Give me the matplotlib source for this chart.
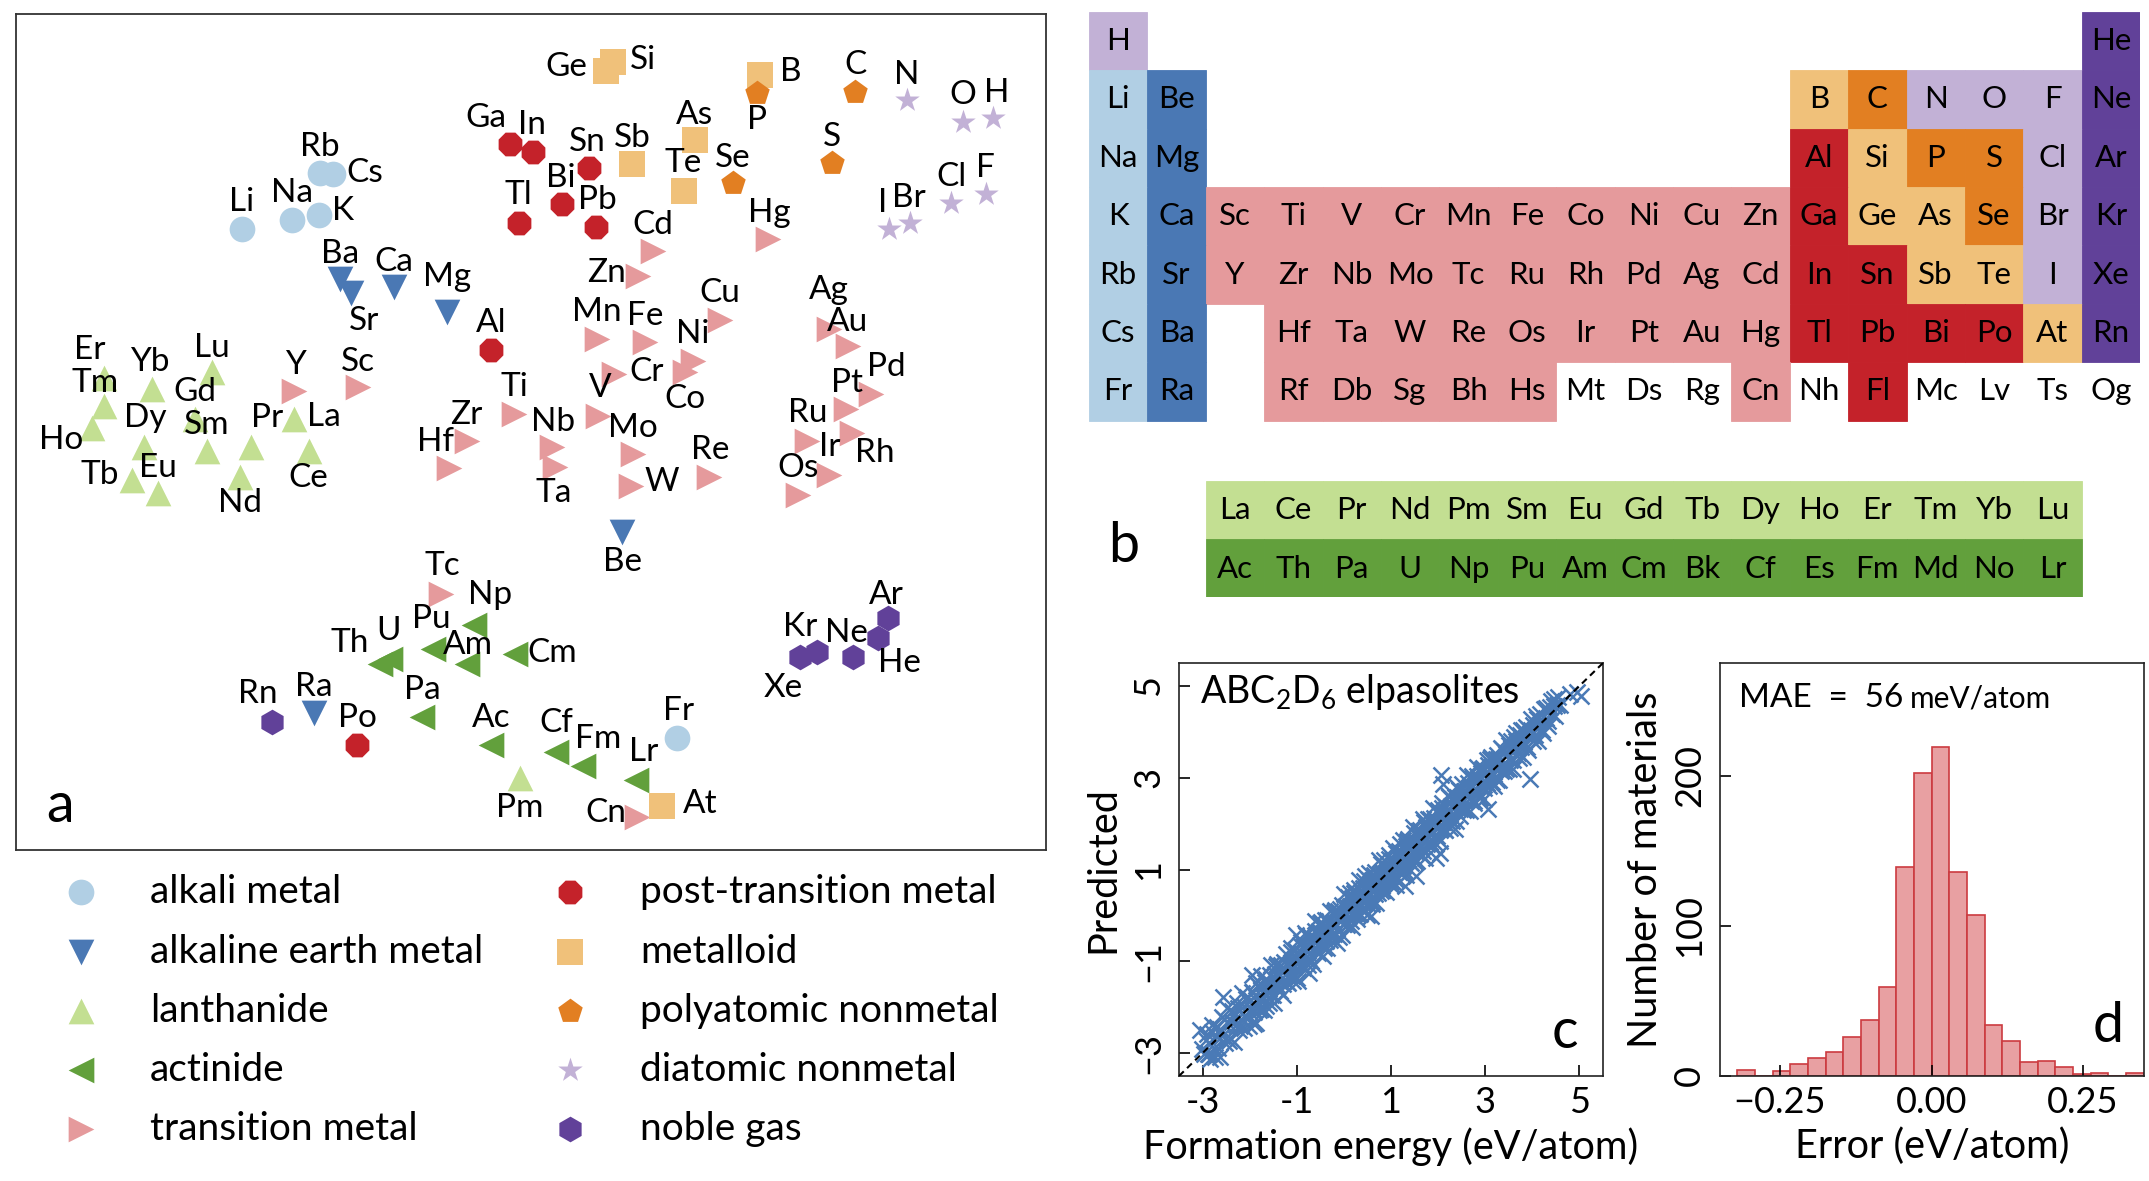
import numpy as np
import matplotlib
matplotlib.use("Agg")
import matplotlib.pyplot as plt
from matplotlib.patches import Rectangle

plt.rcParams["font.family"] = ["Lato", "DejaVu Sans"]
plt.rcParams["mathtext.fontset"] = "custom"
plt.rcParams["mathtext.rm"] = "Lato"
plt.rcParams["mathtext.it"] = "Lato:italic"
plt.rcParams["mathtext.bf"] = "Lato:bold"

W, H = 2149, 1181

# ---- element classes ----
category_members = {
    "alkali metal": "Li Na K Rb Cs Fr",
    "alkaline earth metal": "Be Mg Ca Sr Ba Ra",
    "lanthanide": "La Ce Pr Nd Pm Sm Eu Gd Tb Dy Ho Er Tm Yb Lu",
    "actinide": "Ac Th Pa U Np Pu Am Cm Bk Cf Es Fm Md No Lr",
    "transition metal": "Sc Ti V Cr Mn Fe Co Ni Cu Zn Y Zr Nb Mo Tc Ru Rh Pd Ag Cd "
                        "Hf Ta W Re Os Ir Pt Au Hg Rf Db Sg Bh Hs Cn",
    "post-transition metal": "Al Ga In Sn Tl Pb Bi Po Fl",
    "metalloid": "B Si Ge As Sb Te At",
    "polyatomic nonmetal": "C P S Se",
    "diatomic nonmetal": "H N O F Cl Br I",
    "noble gas": "He Ne Ar Kr Xe Rn",
}
legend_left = ["alkali metal", "alkaline earth metal", "lanthanide", "actinide", "transition metal"]
legend_right = ["post-transition metal", "metalloid", "polyatomic nonmetal", "diatomic nonmetal", "noble gas"]

COLORS = {
    "alkali metal": "#b1cfe4",
    "alkaline earth metal": "#4a78b4",
    "lanthanide": "#c3df92",
    "actinide": "#62a03c",
    "transition metal": "#e59a9c",
    "post-transition metal": "#c4222a",
    "metalloid": "#f0c17a",
    "polyatomic nonmetal": "#e27f22",
    "diatomic nonmetal": "#c2b1d6",
    "noble gas": "#614199",
}
MARKERS = {
    "alkali metal": "o", "alkaline earth metal": "v", "lanthanide": "^",
    "actinide": "<", "transition metal": ">", "post-transition metal": "8",
    "metalloid": "s", "polyatomic nonmetal": "p", "diatomic nonmetal": "*",
    "noble gas": "h",
}
category_of = {}
for cat, members in category_members.items():
    for sym in members.split():
        category_of[sym] = cat

# ---- periodic table layout (period rows, '.' = empty) ----
table_rows = [
    "H . . . . . . . . . . . . . . . . He",
    "Li Be . . . . . . . . . . B C N O F Ne",
    "Na Mg . . . . . . . . . . Al Si P S Cl Ar",
    "K Ca Sc Ti V Cr Mn Fe Co Ni Cu Zn Ga Ge As Se Br Kr",
    "Rb Sr Y Zr Nb Mo Tc Ru Rh Pd Ag Cd In Sn Sb Te I Xe",
    "Cs Ba . Hf Ta W Re Os Ir Pt Au Hg Tl Pb Bi Po At Rn",
    "Fr Ra . Rf Db Sg Bh Hs Mt Ds Rg Cn Nh Fl Mc Lv Ts Og",
]
f_rows = [
    "La Ce Pr Nd Pm Sm Eu Gd Tb Dy Ho Er Tm Yb Lu",
    "Ac Th Pa U Np Pu Am Cm Bk Cf Es Fm Md No Lr",
]

# ---- panel a: 2D embedding of elements ----
emb_symbols = ["Li", "Na", "K", "Rb", "Cs", "Fr",
               "Be", "Mg", "Ca", "Sr", "Ba", "Ra",
               "La", "Ce", "Pr", "Nd", "Pm", "Sm", "Eu", "Gd", "Tb", "Dy", "Ho", "Er", "Tm", "Yb", "Lu",
               "Ac", "Th", "Pa", "U", "Np", "Pu", "Am", "Cm", "Cf", "Fm", "Lr",
               "Sc", "Ti", "V", "Cr", "Mn", "Fe", "Co", "Ni", "Cu", "Zn",
               "Y", "Zr", "Nb", "Mo", "Tc", "Ru", "Rh", "Pd", "Ag", "Cd",
               "Hf", "Ta", "W", "Re", "Os", "Ir", "Pt", "Au", "Hg", "Cn",
               "Al", "Ga", "In", "Sn", "Tl", "Pb", "Bi", "Po",
               "B", "Si", "Ge", "As", "Sb", "Te", "At",
               "C", "P", "S", "Se",
               "H", "N", "O", "F", "Cl", "Br", "I",
               "He", "Ne", "Ar", "Kr", "Xe", "Rn"]
emb_x = [242, 292, 318.5, 320, 333, 677.4,
         622, 447.3, 394.3, 351, 340, 313.5,
         294.3, 309, 250.7, 240, 519.5, 206.7, 158.3, 195, 132.3, 144.3, 92.3, 104.3, 104.3, 151.7, 212.3,
         491.4, 380.2, 422.3, 389.6, 474.2, 432.8, 467.2, 514.9, 556.3, 582.6, 636.3,
         357.5, 514, 598.3, 614, 596.5, 644.5, 685, 692.5, 720, 638.2,
         294.3, 466.7, 552.3, 633.3, 440.5, 806.7, 851.7, 870.7, 828.5, 652.6,
         449, 555, 630.8, 709.3, 797.7, 829.3, 846, 847.5, 768.2, 637,
         491, 510.2, 532.8, 588.7, 518.6, 596, 561.5, 357,
         759.7, 612.8, 605.5, 695.4, 632.3, 684.3, 661.6,
         855.4, 756.7, 831.7, 733,
         993.2, 907, 963.3, 985.5, 951, 909.8, 889,
         878.3, 853.3, 887.7, 816.7, 800, 272.1]
emb_y = [229, 220, 215, 173, 174, 737.5,
         532, 311.7, 286.7, 293.3, 279.3, 713,
         419, 450.7, 446.7, 477.3, 778, 450.7, 493.3, 419, 480, 446.7, 427.7, 378.3, 406, 389.3, 371.7,
         744.6, 663.9, 717.2, 658.6, 625.3, 649.1, 663.9, 654, 751.6, 765.6, 779.6,
         387.3, 414, 415.7, 374, 339, 341.7, 371.7, 360.5, 319.5, 276,
         390.7, 441, 447.3, 453.7, 593.7, 440.7, 432.7, 394, 328.5, 250.5,
         468.3, 466.7, 486, 477.3, 495, 475, 409.3, 346.2, 239, 816.5,
         350, 144, 151.7, 168.3, 222.7, 226.7, 204.3, 745.3,
         75, 61.7, 70.7, 140, 164, 190.7, 806,
         91.7, 92.7, 163.3, 183.3,
         118.3, 100, 121.7, 194, 202.7, 222.7, 229.3,
         638.3, 656.7, 618.3, 651.7, 657.3, 721.8]

# label placement (layout, same units as the embedding axes)
label_xy = {
    "Li": (242, 202), "Na": (292, 193), "K": (343, 211), "Rb": (320, 147), "Cs": (364.5, 172.7),
    "Fr": (678.4, 711),
    "Be": (622.7, 562), "Mg": (447.3, 277), "Ca": (394.3, 261.7), "Sr": (364, 320.5),
    "Ba": (340, 254), "Ra": (313.5, 686.7),
    "La": (324.3, 416.7), "Ce": (308.3, 478.3), "Pr": (266.7, 418.3), "Nd": (240, 503.3),
    "Pm": (519.5, 807.7), "Sm": (206.7, 425), "Eu": (158.3, 468.3), "Gd": (195, 391.7),
    "Tb": (100, 475), "Dy": (145, 418.3), "Ho": (61, 440), "Er": (90, 350), "Tm": (95, 383),
    "Yb": (150, 361.7), "Lu": (212.3, 348.3),
    "Ac": (491.4, 718.2), "Th": (349.3, 642.8), "Pa": (422.3, 690.2), "U": (388.6, 630.5),
    "Np": (489.6, 595.4), "Pu": (431.8, 619.3), "Am": (467.9, 644.6), "Cm": (552.1, 653.3),
    "Cf": (556.3, 723.5), "Fm": (598.4, 739.3), "Lr": (644, 751.6),
    "Sc": (358.3, 361.7), "Ti": (514, 386.7), "V": (600, 388.3), "Cr": (646.7, 371.7),
    "Mn": (597, 311.7), "Fe": (645, 316), "Co": (685, 399.3), "Ni": (693, 334),
    "Cu": (720, 293.3), "Zn": (606.7, 273.3),
    "Y": (295, 365), "Zr": (466.7, 415), "Nb": (552.7, 421.7), "Mo": (633.3, 428.3),
    "Tc": (442, 565.6), "Ru": (807.3, 413.3), "Rh": (875, 453.3), "Pd": (886.7, 366.7),
    "Ag": (828.5, 290), "Cd": (652.6, 225),
    "Hf": (435, 441.7), "Ta": (554, 493.3), "W": (661.7, 481.7), "Re": (710, 450),
    "Os": (798.3, 468.3), "Ir": (830, 446.7), "Pt": (846.7, 383.3), "Au": (848, 321.7),
    "Hg": (769.3, 213.3), "Cn": (605.4, 813),
    "Al": (491, 322.7), "Ga": (486, 118.3), "In": (532, 125), "Sn": (587.5, 141.7),
    "Tl": (518.6, 195), "Pb": (597, 200), "Bi": (560.7, 178.3), "Po": (357, 718.2),
    "B": (790.4, 71.7), "Si": (643, 60), "Ge": (566.5, 66.7), "As": (694.7, 115),
    "Sb": (632.3, 138.3), "Te": (683.2, 163.3), "At": (700.2, 804.2),
    "C": (855.4, 65), "P": (756.7, 120), "S": (831.7, 136.7), "Se": (733, 158.3),
    "H": (997, 93.3), "N": (907, 75), "O": (963.3, 95), "F": (985.5, 168.3),
    "Cl": (951, 176.7), "Br": (909, 198.3), "I": (882.2, 203.3),
    "He": (899.3, 663.3), "Ne": (846, 633.3), "Ar": (886.7, 595), "Kr": (800, 626.7),
    "Xe": (783.3, 688.3), "Rn": (257.4, 693.7),
}

# ---- panel c: predicted vs DFT formation energy (eV/atom) ----
dft_energy = [
    -3.02, -2.97, -2.93, -2.88, -2.84, -2.80, -2.76, -2.71, -2.67, -2.63, -2.58, -2.55, -2.50,
    -2.46, -2.42, -2.37, -2.33, -2.29, -2.25, -2.20, -2.16, -2.12, -2.08, -2.05, -2.01,
    -1.97, -1.95, -1.92, -1.90, -1.87, -1.85, -1.82, -1.80, -1.77, -1.75, -1.72, -1.70, -1.67,
    -1.65, -1.62, -1.60, -1.57, -1.55, -1.52, -1.50, -1.47, -1.45, -1.42, -1.40, -1.37, -1.35,
    -1.32, -1.30, -1.27, -1.25, -1.22, -1.20, -1.17, -1.15, -1.12, -1.10, -1.07, -1.05, -1.02, -1.00,
    -0.98, -0.96, -0.93, -0.91, -0.89, -0.87, -0.85, -0.82, -0.80, -0.78, -0.76, -0.73, -0.71,
    -0.69, -0.67, -0.65, -0.62, -0.60, -0.58, -0.56, -0.53, -0.51, -0.49, -0.47, -0.45, -0.42,
    -0.40, -0.38, -0.36, -0.33, -0.31, -0.29, -0.27, -0.25, -0.22, -0.20, -0.18, -0.16, -0.13,
    -0.11, -0.09, -0.07, -0.05, -0.02, 0.00,
    0.01, 0.04, 0.05, 0.08, 0.11, 0.12, 0.15, 0.17, 0.18, 0.21, 0.23, 0.24, 0.27, 0.29, 0.30,
    0.33, 0.35, 0.36, 0.39, 0.41, 0.42, 0.45, 0.47, 0.48, 0.51, 0.53, 0.54, 0.57, 0.59, 0.60,
    0.63, 0.65, 0.66, 0.69, 0.71, 0.72, 0.75, 0.77, 0.78, 0.81, 0.83, 0.84, 0.87, 0.89, 0.90,
    0.93, 0.95, 0.96, 0.99, 1.01,
    1.03, 1.05, 1.07, 1.09, 1.11, 1.13, 1.15, 1.17, 1.19, 1.21, 1.23, 1.25, 1.27, 1.29, 1.31,
    1.33, 1.35, 1.37, 1.39, 1.41, 1.43, 1.45, 1.47, 1.49, 1.51, 1.53, 1.55, 1.57, 1.59, 1.61,
    1.63, 1.65, 1.67, 1.69, 1.71, 1.73, 1.75, 1.77, 1.79, 1.81, 1.83, 1.85, 1.87, 1.89, 1.91,
    1.93, 1.95, 1.97, 1.99, 2.01,
    2.03, 2.05, 2.08, 2.10, 2.12, 2.14, 2.16, 2.19, 2.21, 2.23, 2.25, 2.27, 2.30, 2.32, 2.34,
    2.36, 2.38, 2.41, 2.43, 2.45, 2.47, 2.49, 2.52, 2.54, 2.56, 2.58, 2.60, 2.63, 2.65, 2.67,
    2.69, 2.71, 2.74, 2.76, 2.78, 2.80, 2.82, 2.85, 2.87, 2.89, 2.91, 2.93, 2.96, 2.98, 3.00,
    3.03, 3.06, 3.08, 3.11, 3.14, 3.17, 3.19, 3.22, 3.25, 3.28, 3.30, 3.33, 3.36, 3.39, 3.41,
    3.44, 3.47, 3.50, 3.52, 3.55, 3.58, 3.61, 3.63, 3.66, 3.69, 3.72, 3.74, 3.77, 3.80, 3.83,
    3.85, 3.88, 3.91, 3.94, 3.97,
    4.01, 4.05, 4.09, 4.13, 4.17, 4.21, 4.25, 4.29, 4.33, 4.37, 4.41, 4.45, 4.49, 4.53, 4.58,
    4.40, 4.47, 4.55,
    4.94, 5.04, 4.79, 3.95, 3.06, 2.07, 2.10, 2.03, 1.96, 1.54, 1.29, 0.58, -0.74, -1.86,
    -2.57, -3.06, -2.86, -1.01, -1.96,
    # wider scatter around the band
    -2.90, -2.85, -2.79, -2.74, -2.69, -2.64, -2.59, -2.53, -2.48, -2.43,
    -2.38, -2.33, -2.27, -2.22, -2.17, -2.12, -2.07, -2.01, -1.96, -1.91,
    -1.86, -1.81, -1.75, -1.70, -1.65, -1.60, -1.55, -1.49, -1.44, -1.39,
    -1.34, -1.29, -1.23, -1.18, -1.13, -1.08, -1.03, -0.97, -0.92, -0.87,
    -0.82, -0.77, -0.71, -0.66, -0.61, -0.56, -0.51, -0.45, -0.40, -0.35,
    -0.30, -0.25, -0.19, -0.14, -0.09, -0.04, 0.01, 0.07, 0.12, 0.17,
    0.22, 0.27, 0.33, 0.38, 0.43, 0.48, 0.53, 0.59, 0.64, 0.69,
    0.74, 0.79, 0.85, 0.90, 0.95, 1.00, 1.05, 1.11, 1.16, 1.21,
    1.26, 1.31, 1.37, 1.42, 1.47, 1.52, 1.57, 1.63, 1.68, 1.73,
    1.78, 1.83, 1.89, 1.94, 1.99, 2.04, 2.09, 2.15, 2.20, 2.25,
    2.30, 2.35, 2.41, 2.46, 2.51, 2.56, 2.61, 2.67, 2.72, 2.77,
    2.82, 2.87, 2.93, 2.98, 3.03, 3.08, 3.13, 3.19, 3.24, 3.29,
    3.34, 3.39, 3.45, 3.50, 3.55, 3.60, 3.65, 3.71, 3.76, 3.81,
    3.86, 3.91, 3.97, 4.02, 4.07, 4.12, 4.17, 4.23, 4.28, 4.33,
]
ml_energy = [
    -2.92, -3.03, -2.72, -3.03, -2.81, -2.54, -2.88, -2.63, -2.89, -2.48, -2.62, -2.25, -2.67,
    -2.35, -2.68, -2.32, -2.14, -2.38, -2.01, -2.40, -2.14, -1.98, -2.21, -1.78, -2.08,
    -1.85, -2.03, -1.67, -2.11, -1.84, -2.00, -1.51, -1.82, -1.60, -2.03, -1.65, -1.81, -1.45,
    -1.98, -1.48, -1.65, -1.29, -1.73, -1.51, -1.74, -1.28, -1.54, -1.07, -1.53, -1.32, -1.65,
    -1.22, -1.49, -1.01, -1.29, -1.06, -1.46, -1.09, -1.29, -0.80, -1.32, -1.05, -1.12, -0.81, -1.36,
    -0.85, -0.97, -0.64, -1.07, -0.83, -1.14, -0.67, -0.92, -0.42, -0.98, -0.67, -0.85, -0.48,
    -1.00, -0.52, -0.65, -0.35, -0.77, -0.54, -0.79, -0.33, -0.57, -0.15, -0.61, -0.38, -0.71,
    -0.29, -0.56, -0.11, -0.36, -0.14, -0.54, -0.18, -0.40, 0.08, -0.41, -0.17, -0.24, 0.09,
    -0.48, 0.03, -0.09, 0.23, -0.19, 0.05,
    -0.19, 0.20, 0.00, 0.39, -0.02, 0.20, -0.12, 0.38, 0.17, 0.56, 0.05, 0.28, 0.04, 0.41, 0.21,
    0.60, 0.03, 0.50, 0.36, 0.60, 0.27, 0.85, 0.36, 0.54, 0.25, 0.77, 0.47, 0.67, 0.25, 0.77,
    0.65, 0.46, 0.95, 0.57, 0.78, 0.48, 0.88, 0.75, 1.11, 0.65, 0.92, 0.55, 1.07, 0.83, 1.05,
    0.72, 1.32, 0.86, 1.02, 0.73,
    1.21, 0.93, 1.12, 0.79, 1.35, 1.10, 1.26, 0.95, 1.55, 1.13, 1.37, 1.08, 1.29, 0.96, 1.52,
    1.28, 1.63, 1.23, 1.48, 1.16, 1.59, 1.46, 1.27, 1.79, 1.41, 1.60, 1.19, 1.76, 1.55, 1.86,
    1.48, 1.77, 1.40, 1.73, 2.04, 1.62, 1.92, 1.56, 1.85, 1.79, 2.09, 1.54, 2.00, 1.82, 2.13,
    1.75, 2.05, 1.73, 2.30, 1.92,
    2.18, 1.85, 2.35, 2.04, 2.21, 1.86, 2.36, 2.06, 2.24, 2.57, 2.08, 2.38, 2.06, 2.38, 2.33,
    2.59, 2.06, 2.57, 2.34, 2.74, 2.32, 2.53, 2.30, 2.72, 2.51, 2.71, 2.30, 2.88, 2.54, 2.75,
    2.50, 3.03, 2.74, 2.50, 2.92, 2.72, 3.03, 2.69, 2.94, 2.55, 3.10, 2.90, 3.22, 2.77, 3.10,
    2.89, 3.28, 3.03, 3.41, 2.91, 3.25, 3.09, 3.40, 2.96, 3.40, 3.31, 3.15, 3.62, 3.32, 3.56,
    3.19, 3.52, 3.71, 3.39, 3.64, 3.38, 3.89, 3.61, 3.79, 3.53, 3.76, 3.93, 3.66, 4.04, 3.77,
    3.95, 3.66, 4.07, 3.91, 4.04,
    4.15, 3.93, 4.29, 4.08, 4.26, 4.04, 4.49, 4.31, 4.23, 4.54, 4.38, 4.56, 4.35, 4.59, 4.59,
    4.68, 4.72, 4.75,
    4.86, 4.79, 4.82, 2.97, 2.32, 3.07, 2.86, 1.36, 1.25, 0.85, 0.63, -0.02, -1.26, -2.35,
    -1.77, -2.50, -3.01, -0.42, -1.30,
    # wider scatter around the band
    -2.58, -3.13, -2.38, -3.09, -2.43, -3.08, -2.22, -2.78, -2.02, -2.74,
    -2.09, -2.75, -1.91, -2.49, -1.69, -2.45, -1.83, -2.40, -1.66, -2.37,
    -1.47, -2.07, -1.31, -2.07, -1.38, -1.90, -1.08, -1.90, -1.11, -1.63,
    -1.09, -1.74, -0.85, -1.47, -0.71, -1.42, -0.75, -1.44, -0.57, -1.10,
    -0.39, -1.09, -0.45, -1.06, -0.13, -0.83, -0.17, -0.88, -0.11, -0.71,
    0.10, -0.50, 0.12, -0.60, 0.14, -0.42, 0.46, -0.21, 0.48, -0.25,
    0.49, -0.08, 0.77, 0.14, 0.75, 0.00, 0.92, 0.29, 0.89, 0.28,
    1.21, 0.53, 1.20, 0.51, 1.23, 0.67, 1.47, 0.66, 1.40, 0.92,
    1.64, 0.88, 1.67, 1.15, 1.93, 1.16, 1.83, 1.32, 2.09, 1.25,
    2.11, 1.59, 2.34, 1.57, 2.28, 1.62, 2.46, 1.87, 2.63, 1.91,
    2.54, 1.89, 2.80, 2.16, 2.86, 2.31, 3.05, 2.27, 3.00, 2.44,
    3.23, 2.58, 3.20, 2.54, 3.39, 2.82, 3.45, 2.81, 3.49, 2.94,
    3.64, 3.15, 3.82, 3.18, 3.81, 3.20, 3.98, 3.44, 4.05, 3.46,
    4.10, 3.61, 4.29, 3.80, 4.34, 3.79, 4.39, 3.97, 4.53, 4.12,
]

# ---- panel d: error histogram ----
err_edges = np.linspace(-0.3203, 0.3497, 24)
err_counts = [4, 0, 3, 8, 12, 16, 26, 37, 59, 139, 202, 219, 136, 107, 34, 23, 9, 10, 6, 1, 2, 0, 2]


def fx(x):
    return x / W


def fy(y):
    return 1 - y / H


fig = plt.figure(figsize=(W / 100, H / 100), dpi=100)
MS = 18.5

# legend / letters overlay (pixel coordinates)
ax_o = fig.add_axes([0, 0, 1, 1], zorder=-1)
ax_o.set_xlim(0, W)
ax_o.set_ylim(H, 0)
ax_o.axis("off")

# panel a
ax_a = fig.add_axes([fx(16.4), fy(849.7), (1045.7 - 16.4) / W, (849.7 - 13.7) / H])
ax_a.set_xlim(16.4, 1045.7)
ax_a.set_ylim(849.7, 13.7)
ax_a.set_xticks([])
ax_a.set_yticks([])
for sp in ax_a.spines.values():
    sp.set_linewidth(1.3)
    sp.set_color("#333333")
for cat in COLORS:
    idx = [i for i, s in enumerate(emb_symbols) if category_of[s] == cat]
    ax_a.scatter([emb_x[i] for i in idx], [emb_y[i] for i in idx], marker=MARKERS[cat],
                 s=MS ** 2, c=COLORS[cat], linewidths=0, zorder=2)
for s in emb_symbols:
    lx, ly = label_xy[s]
    ax_a.text(lx, ly, s, ha="center", va="center", fontsize=24, zorder=3)

# legend under panel a
rows_y = [891.7, 951.7, 1010.7, 1070, 1129.3]
for col_names, mx, tx in [(legend_left, 80.6, 150), (legend_right, 570, 640.5)]:
    for name, yy in zip(col_names, rows_y):
        ax_o.scatter([mx], [yy], marker=MARKERS[name], s=MS ** 2, c=COLORS[name], linewidths=0)
        ax_o.text(tx, yy, name, ha="left", va="center", fontsize=28)

# panel b: periodic table
cell = 58.4
ax_b = fig.add_axes([fx(1088.9), fy(597), 18 * cell / W, (597 - 11.9) / H])
ax_b.set_xlim(0, 18)
ax_b.set_ylim((597 - 11.9) / cell, 0)
ax_b.axis("off")


def draw_cell(col, row, sym):
    cat = category_of.get(sym)
    if cat is not None:
        fc = COLORS[cat]
        ax_b.add_patch(Rectangle((col, row), 1, 1, facecolor=fc, edgecolor=fc, lw=0.6))
    ax_b.text(col + 0.5, row + 0.5, sym, ha="center", va="center", fontsize=22.5)


for r, row in enumerate(table_rows):
    for c, sym in enumerate(row.split()):
        if sym != ".":
            draw_cell(c, r, sym)
f_top = (481 - 11.9) / cell
for r, row in enumerate(f_rows):
    for c, sym in enumerate(row.split()):
        draw_cell(c + 2, f_top + r, sym)

# panel c
ax_c = fig.add_axes([fx(1179), fy(1076), 424 / W, 413 / H])
ax_c.plot(dft_energy, ml_energy, ls="none", marker="x", ms=12, mew=1.8, color="#4a7ab6", zorder=2)
ax_c.plot([-3.5, 5.5], [-3.5, 5.5], ls="--", dashes=(3.2, 2.2), color="black", lw=1.5, zorder=3)
ax_c.set_xlim(-3.5, 5.5)
ax_c.set_ylim(-3.5, 5.5)
ax_c.set_xticks([-3, -1, 1, 3, 5])
ax_c.set_xticklabels(["-3", "-1", "1", "3", "5"])
ax_c.set_yticks([-3, -1, 1, 3, 5])
ax_c.set_yticklabels(["\u22123", "\u22121", "1", "3", "5"], rotation=90, va="center")
ax_c.text(0.05, 0.903, r"ABC$_2$D$_6$ elpasolites", transform=ax_c.transAxes,
          fontsize=27, va="baseline", ha="left")
ax_c.set_xlabel("Formation energy (eV/atom)", fontsize=28.5, va="center")
ax_c.xaxis.set_label_coords(0.5, -0.17)
ax_c.set_ylabel("Predicted", fontsize=28.5, va="center")
ax_c.yaxis.set_label_coords(-0.179, 0.5)

# panel d
ax_d = fig.add_axes([fx(1720), fy(1076), 424 / W, 413 / H])
ax_d.bar(err_edges[:-1], err_counts, width=np.diff(err_edges), align="edge",
         color="#e8a0a2", edgecolor="#cc3b40", lw=1.2)
ax_d.set_xlim(-0.349, 0.3505)
ax_d.set_ylim(0, 275)
ax_d.set_xticks([-0.25, 0, 0.25])
ax_d.set_xticklabels(["\u22120.25", "0.00", "0.25"])
ax_d.set_yticks([0, 100, 200])
ax_d.set_yticklabels(["0", "100", "200"], rotation=90, va="center")
t1 = ax_d.text(0.045, 0.893, "MAE\u2002=\u200256", transform=ax_d.transAxes, fontsize=24,
               va="baseline", ha="left")
fig.canvas.draw()
bb = t1.get_window_extent().transformed(ax_d.transAxes.inverted())
ax_d.text(bb.x1 + 0.015, 0.893, "meV/atom", transform=ax_d.transAxes, fontsize=21.5,
          va="baseline", ha="left")
ax_d.set_xlabel("Error (eV/atom)", fontsize=28.5, va="center")
ax_d.xaxis.set_label_coords(0.5, -0.17)
ax_d.set_ylabel("Number of materials", fontsize=28.5, va="center")
ax_d.yaxis.set_label_coords(-0.175, 0.5)

for ax in (ax_c, ax_d):
    for sp in ax.spines.values():
        sp.set_linewidth(1.2)
        sp.set_color("#222222")
    ax.tick_params(direction="in", length=8, width=1.2, labelsize=26)
    ax.tick_params(axis="x", pad=7)
    ax.tick_params(axis="y", pad=10)

# panel letters
for letter, (px, py) in {"a": (59.8, 806), "b": (1124, 546), "c": (1565, 1033),
                         "d": (2108, 1027)}.items():
    fig.text(fx(px), fy(py), letter, fontsize=40, ha="center", va="center")

fig.savefig("out.png", dpi=100)
